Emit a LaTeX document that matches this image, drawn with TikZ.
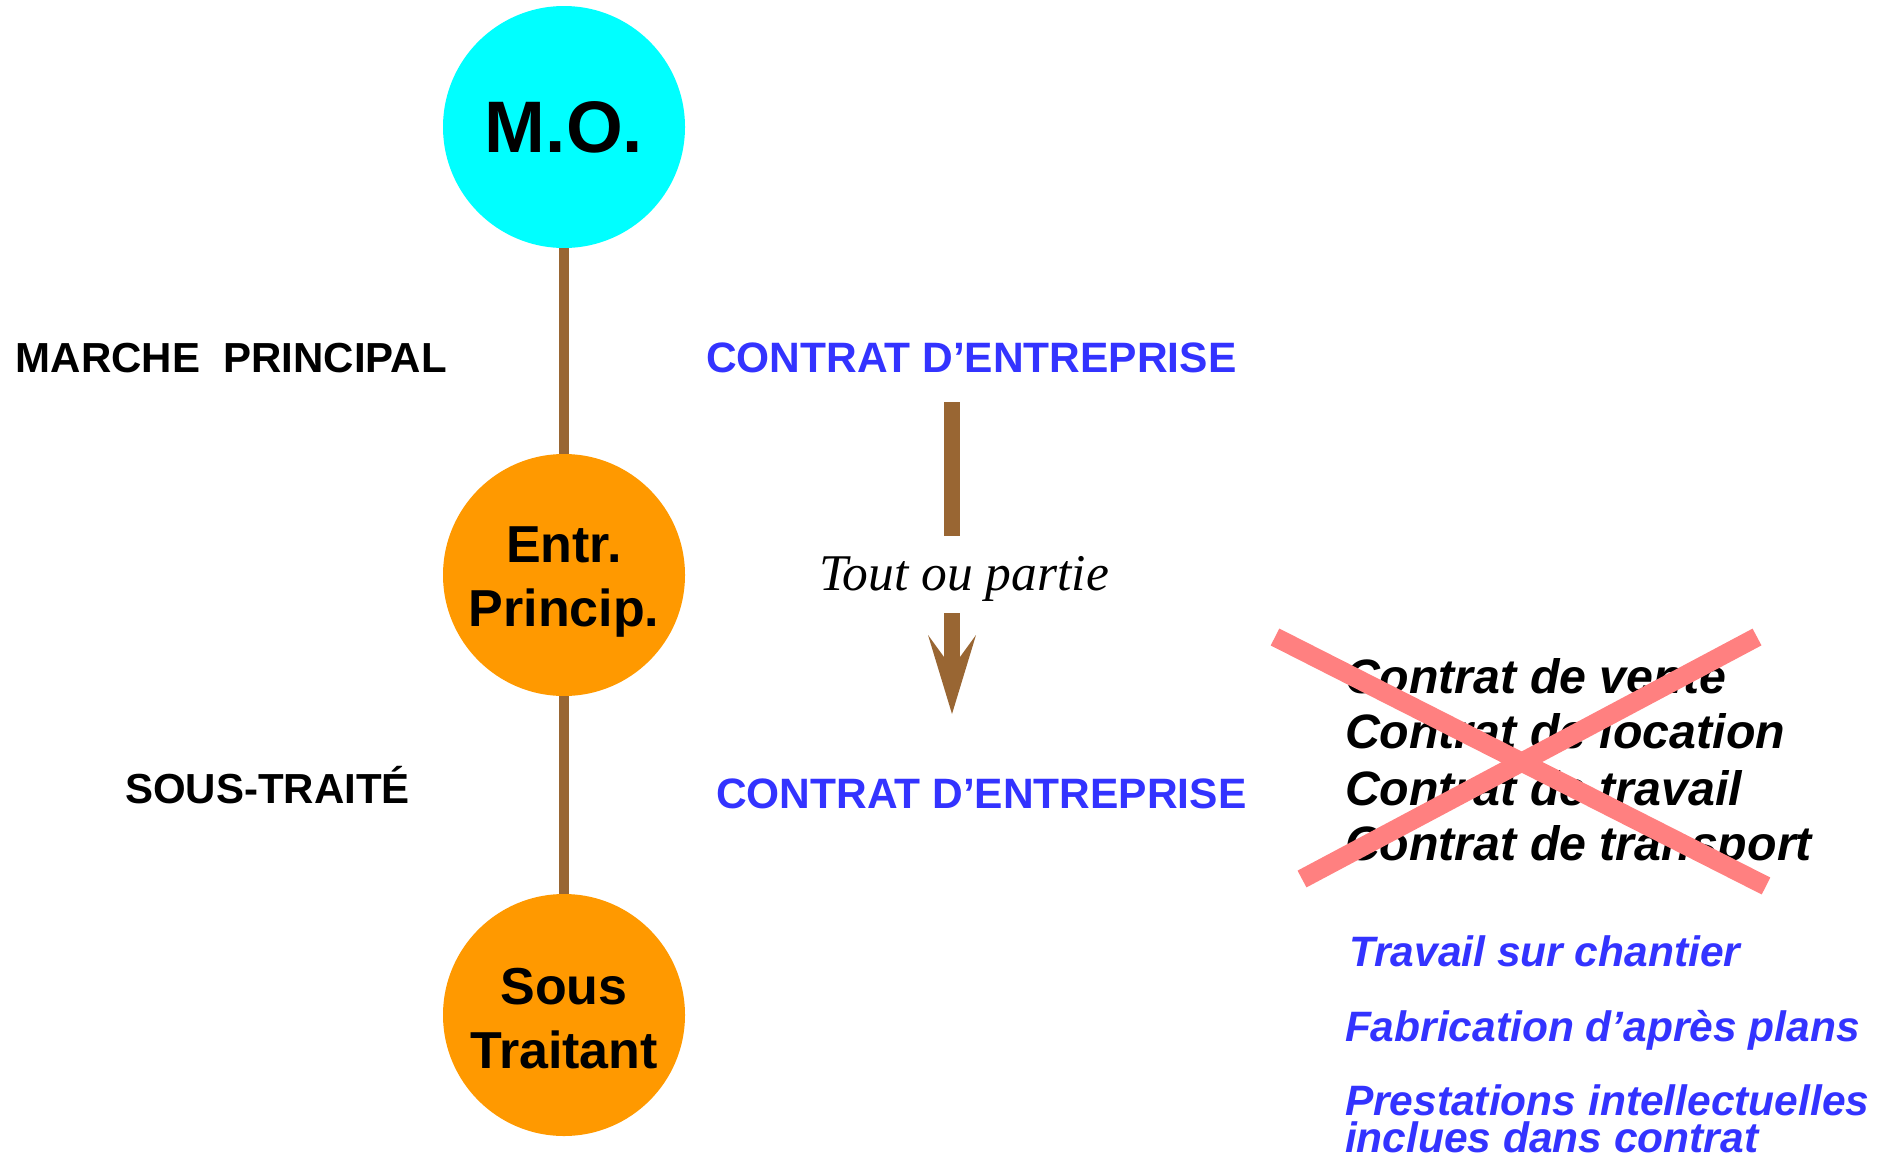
\documentclass[tikz,border=0pt]{standalone}
\usepackage{fontspec}
\setmainfont{Liberation Sans}
\newfontfamily\bookserif{Liberation Serif}

\definecolor{mocyan}{RGB}{0,255,255}
\definecolor{partyorange}{RGB}{255,153,0}
\definecolor{linkbrown}{RGB}{153,102,51}
\definecolor{contractblue}{RGB}{51,51,255}
\definecolor{crosspink}{RGB}{255,128,128}

\begin{document}
\begin{tikzpicture}[x=1pt,y=-1pt,
  party/.style={circle, minimum size=242pt, inner sep=0pt},
  partyname/.style={inner sep=0pt, align=center,
    font=\fontsize{52}{64}\selectfont\bfseries},
  link/.style={draw=linkbrown, line width=10pt},
  shaft/.style={draw=linkbrown, line width=16pt},
  txt/.style={anchor=base west, inner sep=0pt, outer sep=0pt},
  relation/.style={txt, font=\fontsize{42}{50}\selectfont\bfseries},
  contract/.style={txt, text=contractblue, font=\fontsize{42.5}{48}\selectfont\bfseries},
  excluded/.style={txt, font=\fontsize{48.3}{56}\selectfont\bfseries\itshape},
  included/.style={txt, text=contractblue, font=\fontsize{42.5}{42}\selectfont\bfseries\itshape},
  strike/.style={draw=crosspink, line width=19pt}]

\useasboundingbox (0,0) rectangle (1886,1159);

% parties of the chain
\node[party, fill=mocyan] (mo) at (564,127) {};
\node[party, fill=partyorange] (ep) at (564,575) {};
\node[party, fill=partyorange] (st) at (564,1015) {};
\node[partyname, font=\fontsize{73}{80}\selectfont\bfseries] (mot) at (mo) {M.O.};
\node[partyname, yshift=-7pt] (ept) at (ep) {Entr.\\Princip.};
\node[partyname, yshift=-4pt] (stt) at (st) {Sous\\Traitant};

\draw[link] (mo) -- (ep);
\draw[link] (ep) -- (st);

% relation names
\node[relation] (mp) at (16,372) {MARCHE\ \ PRINCIPAL};
\node[relation] (sousT) at (125,803) {SOUS-TRAIT\'E};

% contract type
\node[contract] (ce1) at (706,372) {CONTRAT D’ENTREPRISE};
\node[contract] (ce2) at (716,808) {CONTRAT D’ENTREPRISE};

% downward arrow, split by its label
\node[txt, font=\bookserif\fontsize{51.5}{56}\selectfont\itshape] (tout) at (819,590) {Tout ou partie};
\coordinate (a0) at (952,402);
\coordinate (a1) at (952,536);
\coordinate (a2) at (952,613);
\coordinate (a3) at (952,658);
\coordinate (tip) at (952,714);
\draw[shaft] (a0) -- (a1);
\draw[shaft] (a2) -- (a3);
\fill[linkbrown] (tip) -- ++(-24,-79) -- ++(16,22) -- ++(16,0) -- ++(16,-22) -- cycle;

% contracts that do not apply
\node[excluded] (x1) at (1345,693) {Contrat de vente};
\node[excluded] (x2) at (1345,748) {Contrat de location};
\node[excluded] (x3) at (1345,805) {Contrat de travail};
\node[excluded] (x4) at (1345,860) {Contrat de transport};

\coordinate (s1a) at (1275,637);
\coordinate (s1b) at (1766,886);
\coordinate (s2a) at (1302,879);
\coordinate (s2b) at (1757,637);
\draw[strike] (s1a) -- (s1b);
\draw[strike] (s2a) -- (s2b);

% work that falls within the contract
\node[included] (i1) at (1349,966) {Travail sur chantier};
\node[included] (i2) at (1345,1041) {Fabrication d’après plans};
\node[included] (i3) at (1345,1115) {Prestations intellectuelles};
\node[included] (i4) at (1345,1152) {inclues dans contrat};
\end{tikzpicture}
\end{document}
